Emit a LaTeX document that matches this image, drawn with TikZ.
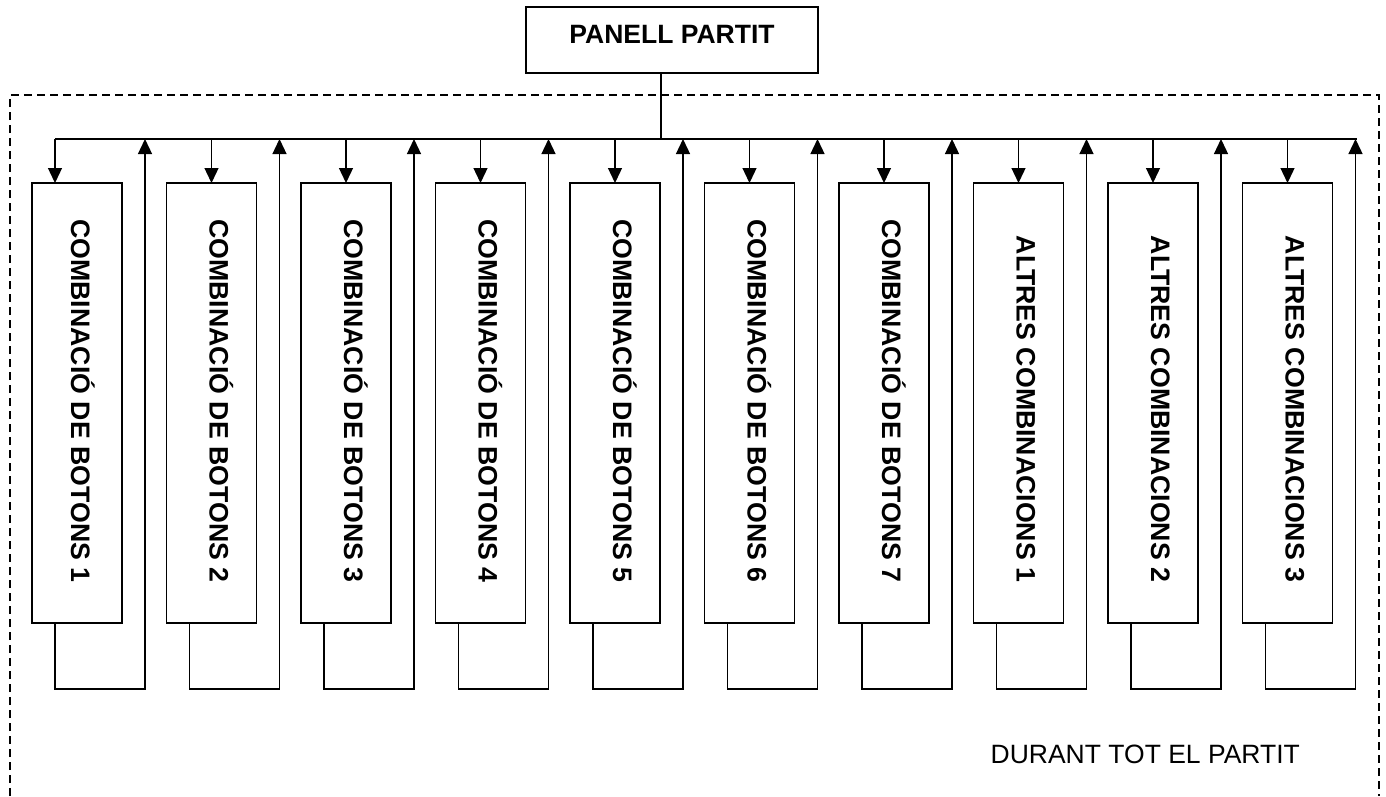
\documentclass[tikz,border=0pt]{standalone}
\usepackage{fontspec}
\setmainfont{Liberation Sans}
\usetikzlibrary{arrows.meta}
\begin{document}
\begin{tikzpicture}[x=1pt,y=-1pt,
  line width=1.3pt,
  boxst/.style={draw, line width=1.3pt, minimum width=90pt, minimum height=440pt, inner sep=0pt, outer sep=0pt, anchor=north west},
  vtext/.style={rotate=-90, anchor=base east, inner sep=0pt, font=\fontsize{26.7}{32}\selectfont\bfseries},
  arr/.style={-{Triangle[length=15pt,width=14pt]}},
  border/.style={dash pattern=on 8pt off 5pt, line width=1.3pt}]
\useasboundingbox (0,0) rectangle (1386,796);
% outer dashed frame
\draw[border] (10,796) -- (10,95) -- (1379,95) -- (1379,796);
% top panel
\node[draw, minimum width=292pt, minimum height=66pt, inner sep=0pt, outer sep=0pt, anchor=north west] (panel) at (526,7) {};
\node[anchor=base, inner sep=0pt, font=\fontsize{26.5}{32}\selectfont\bfseries] (ptext) at (672,43) {PANELL PARTIT};
\coordinate (pdrop) at (661,73);
\coordinate (busL) at (55,139);
\coordinate (busR) at (1357,139);
\draw (pdrop) -- (pdrop |- busL);
\draw (busL) -- (busR);
\foreach \i/\t in {1/{COMBINACIÓ DE BOTONS 1},2/{COMBINACIÓ DE BOTONS 2},3/{COMBINACIÓ DE BOTONS 3},4/{COMBINACIÓ DE BOTONS 4},5/{COMBINACIÓ DE BOTONS 5},6/{COMBINACIÓ DE BOTONS 6},7/{COMBINACIÓ DE BOTONS 7},8/{ALTRES COMBINACIONS 1},9/{ALTRES COMBINACIONS 2},10/{ALTRES COMBINACIONS 3}}{
  \pgfmathsetmacro\L{32+134.5*(\i-1)}
  \pgfmathsetmacro\D{\i==1 ? \L+23 : \L+45}
  \pgfmathsetmacro\T{\i==1 ? \L+39 : \L+43}
  \node[boxst] (b\i) at (\L,183) {};
  \node[vtext] (t\i) at (\T,583) {\t};
  \coordinate (d\i) at (\D,183);
  \coordinate (u\i) at ({\L+113},139);
  \draw[arr] (d\i |- busL) -- (d\i);
  \draw[arr] ([xshift=23pt]b\i.south west) -- ++(0,66) -| (u\i);
}
\node[anchor=base west, inner sep=0pt, font=\fontsize{26.5}{32}\selectfont] (note) at (990,763) {DURANT TOT EL PARTIT};
\end{tikzpicture}
\end{document}
